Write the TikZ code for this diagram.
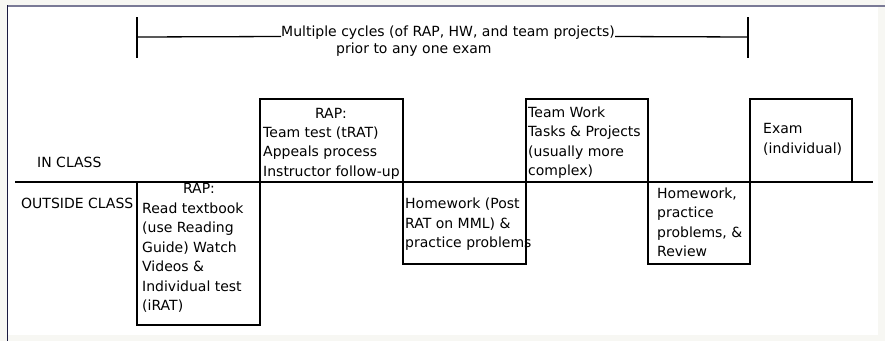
\documentclass[tikz,border=0pt]{standalone}
\usepackage{fontspec}
\setmainfont{DejaVu Sans}
\definecolor{topframe}{RGB}{122,122,150}
\definecolor{leftframe}{RGB}{26,26,64}
\definecolor{offwhite}{RGB}{247,247,243}
\begin{document}
\begin{tikzpicture}[x=1pt,y=-1pt,
  box/.style={draw, line width=1.6pt, inner sep=0pt, outer sep=0pt, anchor=north west},
  txt/.style={inner sep=0pt, anchor=base west, font=\fontsize{14}{19}\selectfont},
  ctxt/.style={txt, anchor=base},
  mainrule/.style={line width=1.6pt},
  brk/.style={line width=1.3pt}]
\useasboundingbox (0,0) rectangle (885,341);
% frame
\fill[offwhite] (0,0) rectangle (885,341);
\fill[white] (8,6) rectangle (878,335);
\draw[topframe, line width=2pt] (7,5.5) -- (885,5.5);
\draw[leftframe, line width=1.5pt] (7.5,5) -- (7.5,341);

% bracket
\coordinate (bl) at (137,37);
\coordinate (blt) at (137,17);
\coordinate (blb) at (137,58);
\coordinate (br) at (748,37);
\coordinate (brt) at (748,17);
\coordinate (brb) at (748,58);
\node[txt] (title) at (281,36.5) {Multiple cycles (of RAP, HW, and team projects)};
\node[txt] (title2) at (336,53) {prior to any one exam};
\draw[brk] (blt) -- (blb);
\draw[brk] (brt) -- (brb);
\draw[brk] (bl) -- (title.base west);
\draw[brk] (title.base east) -- (br);

% boxes
\node[box, minimum width=123pt, minimum height=143pt] (rapout) at (137,182) {};
\node[box, minimum width=143pt, minimum height=83pt] (rapin) at (260,99) {};
\node[box, minimum width=123pt, minimum height=82pt] (hwa) at (403,182) {};
\node[box, minimum width=122pt, minimum height=83pt] (team) at (526,99) {};
\node[box, minimum width=102pt, minimum height=82pt] (hwb) at (648,182) {};
\node[box, minimum width=102pt, minimum height=83pt] (exam) at (750,99) {};

% main line
\coordinate (ml) at (15,182);
\coordinate (mr) at (873,182);
\draw[mainrule] (ml) -- (mr);

% row labels
\node[txt] (inclass) at (37,167) {IN CLASS};
\node[txt] (outclass) at (21,208) {OUTSIDE CLASS};

% RAP in class
\node[ctxt] (ri0) at (331,118) {RAP:};
\node[txt] (ri1) at (263,137.3) {Team test (tRAT)};
\node[txt] (ri2) at (263,156.6) {Appeals process};
\node[txt] (ri3) at (263,176) {Instructor follow-up};

% RAP outside class
\node[ctxt] (ro0) at (199,193) {RAP:};
\node[txt] (ro1) at (142,213) {Read textbook};
\node[txt] (ro2) at (142,232.5) {(use Reading};
\node[txt] (ro3) at (142,252) {Guide) Watch};
\node[txt] (ro4) at (142,271.5) {Videos \&};
\node[txt] (ro5) at (142,291) {Individual test};
\node[txt] (ro6) at (142,310.5) {(iRAT)};

% Homework 1
\node[txt] (ha1) at (405,208.5) {Homework (Post};
\node[txt] (ha2) at (405,228) {RAT on MML) \&};
\node[txt] (ha3) at (405,247.5) {practice problems};

% Team work
\node[txt] (tw1) at (528,117.5) {Team Work};
\node[txt] (tw2) at (528,136.8) {Tasks \& Projects};
\node[txt] (tw3) at (528,156.1) {(usually more};
\node[txt] (tw4) at (528,175.4) {complex)};

% Homework 2
\node[txt] (hb1) at (657,198) {Homework,};
\node[txt] (hb2) at (657,217.5) {practice};
\node[txt] (hb3) at (657,237) {problems, \&};
\node[txt] (hb4) at (657,256.5) {Review};

% Exam
\node[txt] (ex1) at (763,133.5) {Exam};
\node[txt] (ex2) at (763,153) {(individual)};
\end{tikzpicture}
\end{document}
